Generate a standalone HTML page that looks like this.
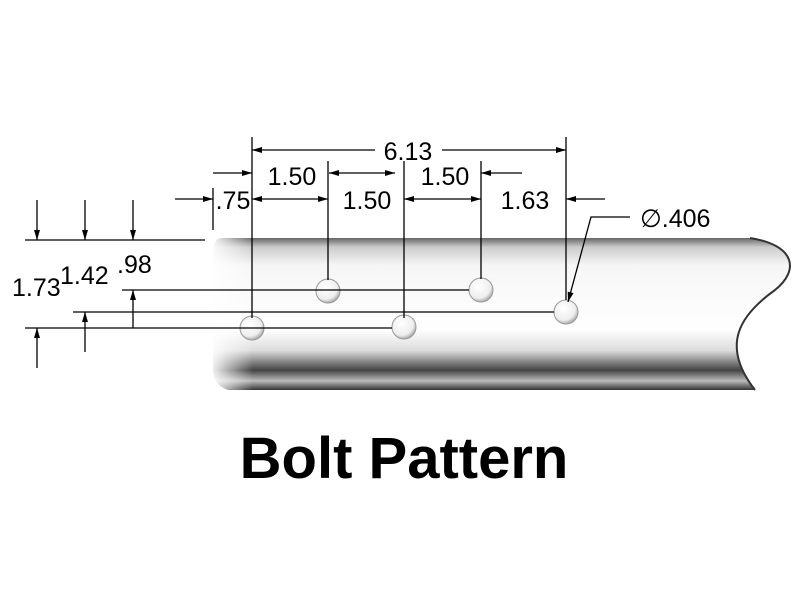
<!DOCTYPE html>
<html><head><style>body{margin:0;background:#fff}svg{display:block}</style></head><body>
<svg width="800" height="600" viewBox="0 0 800 600" xmlns="http://www.w3.org/2000/svg" font-family="Liberation Sans, sans-serif">
<defs>
<linearGradient id="bar" x1="0" y1="0" x2="0" y2="1">
<stop offset="0" stop-color="#666"/><stop offset="0.06" stop-color="#ccc"/><stop offset="0.18" stop-color="#f6f6f6"/>
<stop offset="0.6" stop-color="#fff"/><stop offset="0.74" stop-color="#ddd"/><stop offset="0.87" stop-color="#444"/>
<stop offset="0.94" stop-color="#bbb"/><stop offset="1" stop-color="#333"/></linearGradient>
<linearGradient id="lft" x1="0" y1="0" x2="1" y2="0"><stop offset="0" stop-color="#fff" stop-opacity="0.9"/><stop offset="1" stop-color="#fff" stop-opacity="0"/></linearGradient>
<radialGradient id="hole" cx="0.4" cy="0.35" r="0.7"><stop offset="0" stop-color="#fff"/><stop offset="0.7" stop-color="#eee"/><stop offset="1" stop-color="#999"/></radialGradient>
<marker id="a" viewBox="0 0 10 6" refX="10" refY="3" markerWidth="12" markerHeight="6" markerUnits="userSpaceOnUse" orient="auto-start-reverse"><path d="M0,0L10,3L0,6z" fill="#000"/></marker>
</defs>
<path d="M222,238 L750,238 C795,245 800,270 775,290 C740,315 720,345 755,390 L228,390 Q213,385 213,370 L213,250 Q214,238 222,238Z" fill="url(#bar)"/>
<rect x="213" y="238" width="40" height="152" fill="url(#lft)"/>
<path d="M750,238 C795,245 800,270 775,290 C740,315 720,345 755,390" fill="none" stroke="#333" stroke-width="2"/>
<g fill="url(#hole)" stroke="#999" stroke-width="1">
<circle cx="252" cy="328" r="12"/><circle cx="328" cy="291" r="12"/><circle cx="404" cy="327" r="12"/><circle cx="481" cy="290" r="12"/><circle cx="566" cy="312" r="12"/>
</g>
<g stroke="#000" stroke-width="1.3" fill="none">
<line x1="252" y1="137" x2="252" y2="318"/><line x1="566" y1="137" x2="566" y2="300"/>
<line x1="328" y1="161" x2="328" y2="280"/><line x1="404" y1="161" x2="404" y2="318"/><line x1="481" y1="161" x2="481" y2="279"/>
<line x1="213" y1="188" x2="213" y2="230"/>
<line x1="375" y1="150" x2="252" y2="150" marker-end="url(#a)"/>
<line x1="442" y1="150" x2="566" y2="150" marker-end="url(#a)"/>
<line x1="213" y1="173" x2="252" y2="173" marker-end="url(#a)"/>
<line x1="329" y1="173" x2="395" y2="173" marker-start="url(#a)" marker-end="url(#a)"/>
<line x1="522" y1="173" x2="481" y2="173" marker-end="url(#a)"/>
<line x1="175" y1="199" x2="213" y2="199" marker-end="url(#a)"/>
<line x1="252" y1="199" x2="328" y2="199" marker-start="url(#a)" marker-end="url(#a)"/>
<line x1="404" y1="199" x2="481" y2="199" marker-start="url(#a)" marker-end="url(#a)"/>
<line x1="605" y1="199" x2="566" y2="199" marker-end="url(#a)"/>
<polyline points="630,217 591,217 568,302" marker-end="url(#a)"/>
<line x1="25" y1="240" x2="205" y2="240"/>
<line x1="37" y1="200" x2="37" y2="240" marker-end="url(#a)"/>
<line x1="85" y1="200" x2="85" y2="240" marker-end="url(#a)"/>
<line x1="133" y1="200" x2="133" y2="240" marker-end="url(#a)"/>
<line x1="122" y1="290" x2="469" y2="290"/>
<line x1="73" y1="312" x2="554" y2="312"/>
<line x1="25" y1="328" x2="392" y2="328"/>
<line x1="133" y1="328" x2="133" y2="290" marker-end="url(#a)"/>
<line x1="85" y1="352" x2="85" y2="312" marker-end="url(#a)"/>
<line x1="37" y1="368" x2="37" y2="328" marker-end="url(#a)"/>
</g>
<g font-size="25" fill="#000">
<text x="408" y="160" text-anchor="middle">6.13</text>
<text x="292" y="185" text-anchor="middle">1.50</text>
<text x="445" y="185" text-anchor="middle">1.50</text>
<text x="233" y="209" text-anchor="middle">.75</text>
<text x="367" y="209" text-anchor="middle">1.50</text>
<text x="525" y="209" text-anchor="middle">1.63</text>
<text x="640" y="227">∅.406</text>
<text x="12" y="296">1.73</text>
<text x="60" y="284">1.42</text>
<text x="117" y="273">.98</text>
</g>
<text x="404" y="478" text-anchor="middle" font-size="58" font-weight="bold">Bolt Pattern</text>
</svg>
</body></html>
